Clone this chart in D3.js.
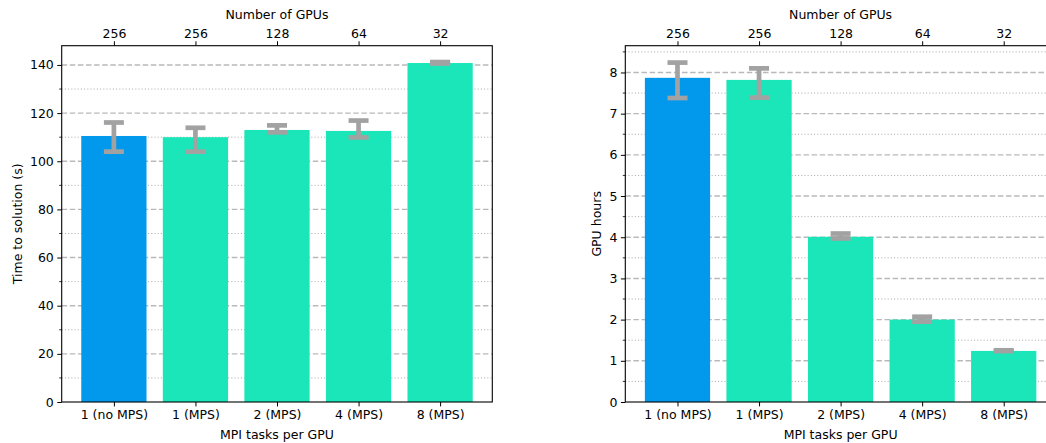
<!DOCTYPE html>
<html><head><meta charset="utf-8">
<script src="https://cdn.jsdelivr.net/npm/d3@7"></script>
<style>
body{margin:0;background:#fff;}
svg{display:block;font-family:"DejaVu Sans",sans-serif;}
</style></head><body>
<svg id="c" width="1046" height="443"></svg>
<script>
const categories = ["1 (no MPS)", "1 (MPS)", "2 (MPS)", "4 (MPS)", "8 (MPS)"];
const gpuLabels = ["256", "256", "128", "64", "32"];
const timeValues = [110.5, 110.0, 113.0, 112.6, 140.8];
const timeLower = [104.0, 104.0, 112.0, 109.9, 140.6];
const timeUpper = [116.1, 113.9, 114.9, 116.9, 141.2];
const hoursValues = [7.87, 7.82, 4.01, 2.00, 1.24];
const hoursLower = [7.38, 7.39, 3.97, 1.95, 1.235];
const hoursUpper = [8.24, 8.10, 4.09, 2.07, 1.255];
const barColors = ["#0299ec", "#1ae6b9", "#1ae6b9", "#1ae6b9", "#1ae6b9"];

const svg = d3.select("#c");
const FS = 12.5;

function panel(opt){
  const g = svg.append("g");
  const x = d3.scaleLinear().domain([-0.64, 4.64]).range([opt.x0, opt.x0 + 430.6]);
  const y = d3.scaleLinear().domain([0, opt.ymax]).range([402, 45.7]);
  const idx = d3.range(categories.length);

  // minor grid (dotted)
  g.append("g").selectAll("line").data(opt.minor).join("line")
    .attr("x1", x.range()[0]).attr("x2", x.range()[1])
    .attr("y1", d => y(d)).attr("y2", d => y(d))
    .attr("stroke", "#a8a8a8").attr("stroke-width", 1).attr("stroke-dasharray", "1,2.2");
  // major grid (dashed)
  g.append("g").selectAll("line").data(opt.major.filter(d => d > 0)).join("line")
    .attr("x1", x.range()[0]).attr("x2", x.range()[1])
    .attr("y1", d => y(d)).attr("y2", d => y(d))
    .attr("stroke", "#b9b9b9").attr("stroke-width", 1.4).attr("stroke-dasharray", "5.5,2.6");

  // bars
  g.append("g").selectAll("rect").data(idx).join("rect")
    .attr("x", i => x(i - 0.4)).attr("width", x(0.8) - x(0))
    .attr("y", i => y(opt.values[i])).attr("height", i => y(0) - y(opt.values[i]))
    .attr("fill", i => barColors[i]);

  // error bars
  const eb = g.append("g").attr("stroke", "#a2a2a2").attr("stroke-width", 4.7);
  eb.selectAll("line.v").data(idx).join("line").attr("class", "v")
    .attr("x1", i => x(i)).attr("x2", i => x(i))
    .attr("y1", i => y(opt.lower[i])).attr("y2", i => y(opt.upper[i]));
  eb.selectAll("line.lo").data(idx).join("line").attr("class", "lo")
    .attr("x1", i => x(i) - 10).attr("x2", i => x(i) + 10)
    .attr("y1", i => y(opt.lower[i])).attr("y2", i => y(opt.lower[i]));
  eb.selectAll("line.hi").data(idx).join("line").attr("class", "hi")
    .attr("x1", i => x(i) - 10).attr("x2", i => x(i) + 10)
    .attr("y1", i => y(opt.upper[i])).attr("y2", i => y(opt.upper[i]));

  // spines
  const [xa, xb] = x.range();
  g.append("rect").attr("x", xa).attr("y", 45.7).attr("width", xb - xa).attr("height", 402 - 45.7)
    .attr("fill", "none").attr("stroke", "#000").attr("stroke-width", 1.1);

  // y axis
  const ya = g.append("g").attr("transform", `translate(${xa},0)`)
    .call(d3.axisLeft(y).tickValues(opt.major).tickFormat(d3.format("d")).tickSize(4.4).tickPadding(3.5));
  ya.select(".domain").remove();
  ya.selectAll("text").attr("font-size", FS).attr("fill", "#000").attr("font-family", "DejaVu Sans");
  ya.selectAll("line").attr("stroke", "#000");
  g.append("g").selectAll("line").data(opt.minor).join("line")
    .attr("x1", xa - 2.5).attr("x2", xa).attr("y1", d => y(d)).attr("y2", d => y(d))
    .attr("stroke", "#000").attr("stroke-width", 0.8);

  // bottom axis
  const xbx = g.append("g").attr("transform", "translate(0,402)")
    .call(d3.axisBottom(x).tickValues(idx).tickFormat(i => categories[i]).tickSize(4.4).tickPadding(3.5));
  xbx.select(".domain").remove();
  xbx.selectAll("text").attr("font-size", FS).attr("fill", "#000").attr("font-family", "DejaVu Sans");
  xbx.selectAll("line").attr("stroke", "#000");

  // top axis
  const xt = g.append("g").attr("transform", "translate(0,45.7)")
    .call(d3.axisTop(x).tickValues(idx).tickFormat(i => gpuLabels[i]).tickSize(4.4).tickPadding(3.5));
  xt.select(".domain").remove();
  xt.selectAll("text").attr("font-size", FS).attr("fill", "#000").attr("font-family", "DejaVu Sans");
  xt.selectAll("line").attr("stroke", "#000");

  const cx = (xa + xb) / 2;
  g.append("text").attr("x", cx).attr("y", 438.5).attr("text-anchor", "middle")
    .attr("font-size", FS).text("MPI tasks per GPU");
  g.append("text").attr("x", cx).attr("y", 19).attr("text-anchor", "middle")
    .attr("font-size", FS).text("Number of GPUs");
  g.append("text").attr("transform", `translate(${opt.ylabX},${(45.7 + 402) / 2}) rotate(-90)`)
    .attr("text-anchor", "middle").attr("font-size", FS).text(opt.ylabel);
}

panel({x0: 61.7, ymax: 148.0, values: timeValues, lower: timeLower, upper: timeUpper,
  major: [0, 20, 40, 60, 80, 100, 120, 140], minor: [10, 30, 50, 70, 90, 110, 130],
  ylabel: "Time to solution (s)", ylabX: 22});
panel({x0: 625.3, ymax: 8.65, values: hoursValues, lower: hoursLower, upper: hoursUpper,
  major: [0, 1, 2, 3, 4, 5, 6, 7, 8], minor: [0.5, 1.5, 2.5, 3.5, 4.5, 5.5, 6.5, 7.5, 8.5],
  ylabel: "GPU hours", ylabX: 601});
</script>
</body></html>
